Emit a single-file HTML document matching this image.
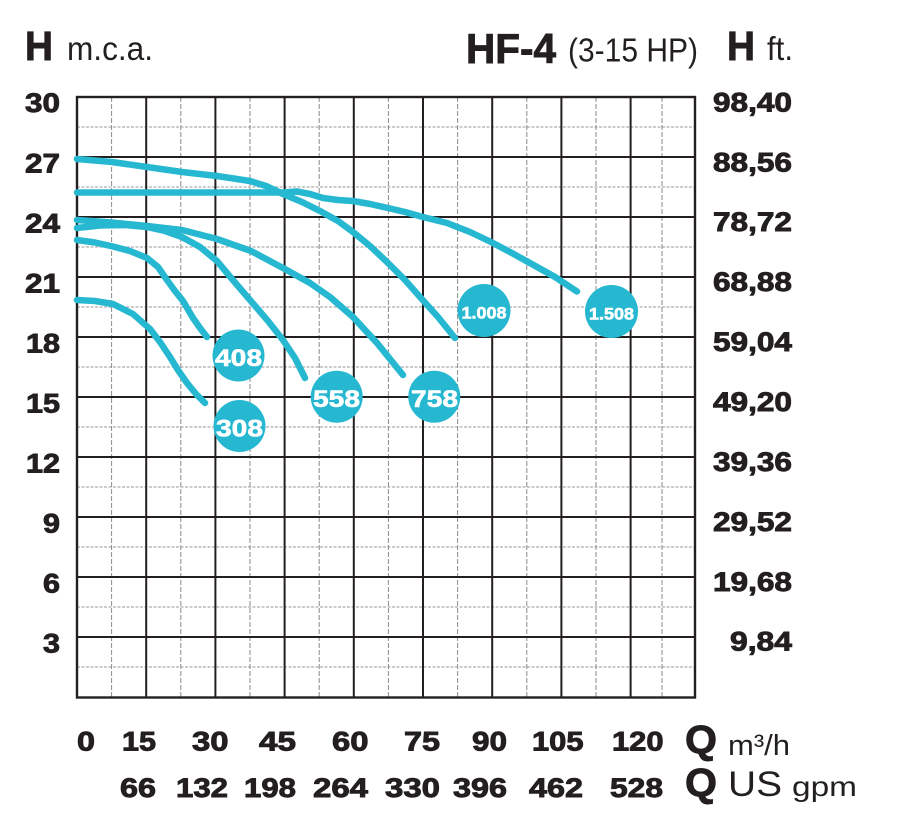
<!DOCTYPE html>
<html>
<head>
<meta charset="utf-8">
<style>
html,body{margin:0;padding:0;background:#fff;}
svg{display:block;}
.hv{font-family:"Liberation Sans",Arial,sans-serif;font-weight:bold;fill:#231f20;stroke:#231f20;stroke-width:0.9;}
.rg{font-family:"Liberation Sans",Arial,sans-serif;font-weight:normal;fill:#231f20;}
.bt{font-family:"Liberation Sans",Arial,sans-serif;font-weight:bold;fill:#fff;stroke:#fff;stroke-width:0.6;}
</style>
</head>
<body>
<svg width="902" height="822" viewBox="0 0 902 822" xmlns="http://www.w3.org/2000/svg">
<rect width="902" height="822" fill="#fff"/>

<!-- minor horizontal lines -->
<g stroke="#9a9a9a" stroke-width="1" stroke-dasharray="3 1.5">
<line x1="77" y1="127" x2="695" y2="127"/>
<line x1="77" y1="187" x2="695" y2="187"/>
<line x1="77" y1="247" x2="695" y2="247"/>
<line x1="77" y1="307" x2="695" y2="307"/>
<line x1="77" y1="367" x2="695" y2="367"/>
<line x1="77" y1="427" x2="695" y2="427"/>
<line x1="77" y1="487" x2="695" y2="487"/>
<line x1="77" y1="547" x2="695" y2="547"/>
<line x1="77" y1="607" x2="695" y2="607"/>
<line x1="77" y1="667" x2="695" y2="667"/>
</g>
<!-- minor vertical lines -->
<g stroke="#8a8a8a" stroke-width="1" stroke-dasharray="5 2">
<line x1="111.6" y1="97" x2="111.6" y2="697"/>
<line x1="180.8" y1="97" x2="180.8" y2="697"/>
<line x1="250" y1="97" x2="250" y2="697"/>
<line x1="319.2" y1="97" x2="319.2" y2="697"/>
<line x1="388.4" y1="97" x2="388.4" y2="697"/>
<line x1="457.6" y1="97" x2="457.6" y2="697"/>
<line x1="526.8" y1="97" x2="526.8" y2="697"/>
<line x1="596" y1="97" x2="596" y2="697"/>
<line x1="662" y1="97" x2="662" y2="697"/>
</g>
<!-- major lines -->
<g stroke="#231f20" stroke-width="2">
<line x1="77" y1="157" x2="695" y2="157"/>
<line x1="77" y1="217" x2="695" y2="217"/>
<line x1="77" y1="277" x2="695" y2="277"/>
<line x1="77" y1="337" x2="695" y2="337"/>
<line x1="77" y1="397" x2="695" y2="397"/>
<line x1="77" y1="457" x2="695" y2="457"/>
<line x1="77" y1="517" x2="695" y2="517"/>
<line x1="77" y1="577" x2="695" y2="577"/>
<line x1="77" y1="637" x2="695" y2="637"/>
<line x1="146.2" y1="97" x2="146.2" y2="697"/>
<line x1="215.4" y1="97" x2="215.4" y2="697"/>
<line x1="284.6" y1="97" x2="284.6" y2="697"/>
<line x1="353.8" y1="97" x2="353.8" y2="697"/>
<line x1="423" y1="97" x2="423" y2="697"/>
<line x1="492.2" y1="97" x2="492.2" y2="697"/>
<line x1="561.4" y1="97" x2="561.4" y2="697"/>
<line x1="630.6" y1="97" x2="630.6" y2="697"/>
</g>
<rect x="77" y="97" width="618" height="600.5" fill="none" stroke="#231f20" stroke-width="2.4"/>

<!-- curves -->
<g fill="none" stroke="#27b8d1" stroke-width="6.5" stroke-linecap="round" stroke-linejoin="round">
<polyline points="77,159 112,162 147,167 182,172 217,176 250,181 266,186 283,194 302,202 320,211 338,221 353,232 370,246 388,263 405,280 420,297 438,317 455,338"/>
<polyline points="77,192.5 283,192.5 297,191.5 310,194 323,198 338,200 353,201 370,204 388,208 405,212 423,217 447,223 470,232 490,241.5 510,252 530,263 555,277 577,291.5"/>
<polyline points="77,220 112,222.5 147,226 182,230 217,239 251,251 283,268 310,283 330,297 353,317 377,343 403,375"/>
<polyline points="77,228 100,225.5 125,225 147,227 165,231 182,237 200,247 217,261 232,279 250,300 268,321 283,340 295,358 305,378"/>
<polyline points="77,240 95,242.5 113,246.5 130,251 147,258 158,267 167,280 175,291 183,301 193,318 200,328 207,337"/>
<polyline points="77,300 95,301 113,304 133,314 150,329 160,342 170,357 178,370 187,383 196,394 205,403"/>
</g>

<!-- badges -->
<g fill="#27b8d1">
<circle cx="238.5" cy="355.5" r="26"/>
<circle cx="239.5" cy="426" r="26"/>
<circle cx="336.7" cy="396.7" r="26"/>
<circle cx="434.3" cy="396.7" r="26"/>
<circle cx="484" cy="310.5" r="26.5"/>
<circle cx="611.5" cy="311.5" r="26.5"/>
</g>
<g class="bt" font-size="24">
<text x="215" y="366" textLength="47" lengthAdjust="spacingAndGlyphs">408</text>
<text x="216" y="436.5" textLength="47" lengthAdjust="spacingAndGlyphs">308</text>
<text x="313" y="407" textLength="47" lengthAdjust="spacingAndGlyphs">558</text>
<text x="411" y="407" textLength="47" lengthAdjust="spacingAndGlyphs">758</text>
</g>
<g class="bt" font-size="17">
<text x="461.5" y="318.5" textLength="45" lengthAdjust="spacingAndGlyphs">1.008</text>
<text x="589" y="319.5" textLength="45" lengthAdjust="spacingAndGlyphs">1.508</text>
</g>

<!-- header -->
<text class="hv" x="25" y="60" font-size="41" textLength="28" lengthAdjust="spacingAndGlyphs">H</text>
<text class="rg" x="67" y="60" font-size="33" textLength="86" lengthAdjust="spacingAndGlyphs">m.c.a.</text>
<text class="hv" x="466" y="63" font-size="42" textLength="90" lengthAdjust="spacingAndGlyphs">HF-4</text>
<text class="rg" x="568" y="61.5" font-size="33" textLength="130" lengthAdjust="spacingAndGlyphs">(3-15 HP)</text>
<text class="hv" x="727" y="60" font-size="41" textLength="28" lengthAdjust="spacingAndGlyphs">H</text>
<text class="rg" x="767" y="60" font-size="33" textLength="26" lengthAdjust="spacingAndGlyphs">ft.</text>

<!-- left axis labels -->
<g class="hv" font-size="27">
<text x="25" y="112" textLength="35" lengthAdjust="spacingAndGlyphs">30</text>
<text x="25" y="172.5" textLength="35" lengthAdjust="spacingAndGlyphs">27</text>
<text x="25" y="232.5" textLength="35" lengthAdjust="spacingAndGlyphs">24</text>
<text x="25" y="292.5" textLength="35" lengthAdjust="spacingAndGlyphs">21</text>
<text x="26" y="352.5" textLength="34" lengthAdjust="spacingAndGlyphs">18</text>
<text x="26" y="412.5" textLength="34" lengthAdjust="spacingAndGlyphs">15</text>
<text x="26" y="472.5" textLength="34" lengthAdjust="spacingAndGlyphs">12</text>
<text x="43" y="532.5" textLength="17" lengthAdjust="spacingAndGlyphs">9</text>
<text x="43" y="592.5" textLength="17" lengthAdjust="spacingAndGlyphs">6</text>
<text x="43" y="652.5" textLength="17" lengthAdjust="spacingAndGlyphs">3</text>
</g>

<!-- right axis labels -->
<g class="hv" font-size="27">
<text x="713" y="111.5" textLength="79" lengthAdjust="spacingAndGlyphs">98,40</text>
<text x="713" y="171.5" textLength="79" lengthAdjust="spacingAndGlyphs">88,56</text>
<text x="713" y="231" textLength="79" lengthAdjust="spacingAndGlyphs">78,72</text>
<text x="713" y="291" textLength="79" lengthAdjust="spacingAndGlyphs">68,88</text>
<text x="713" y="351" textLength="79" lengthAdjust="spacingAndGlyphs">59,04</text>
<text x="713" y="411" textLength="79" lengthAdjust="spacingAndGlyphs">49,20</text>
<text x="713" y="471" textLength="79" lengthAdjust="spacingAndGlyphs">39,36</text>
<text x="713" y="531" textLength="79" lengthAdjust="spacingAndGlyphs">29,52</text>
<text x="713" y="591" textLength="79" lengthAdjust="spacingAndGlyphs">19,68</text>
<text x="730" y="650.5" textLength="62" lengthAdjust="spacingAndGlyphs">9,84</text>
</g>

<!-- bottom axis labels row 1 -->
<g class="hv" font-size="27">
<text x="77" y="750.5" textLength="18" lengthAdjust="spacingAndGlyphs">0</text>
<text x="122" y="750.5" textLength="34" lengthAdjust="spacingAndGlyphs">15</text>
<text x="192" y="750.5" textLength="36.5" lengthAdjust="spacingAndGlyphs">30</text>
<text x="259" y="750.5" textLength="37" lengthAdjust="spacingAndGlyphs">45</text>
<text x="332" y="750.5" textLength="36.5" lengthAdjust="spacingAndGlyphs">60</text>
<text x="404" y="750.5" textLength="36" lengthAdjust="spacingAndGlyphs">75</text>
<text x="472" y="750.5" textLength="35" lengthAdjust="spacingAndGlyphs">90</text>
<text x="532" y="750.5" textLength="51.5" lengthAdjust="spacingAndGlyphs">105</text>
<text x="612" y="750.5" textLength="51.5" lengthAdjust="spacingAndGlyphs">120</text>
</g>
<text class="hv" x="685" y="753" font-size="40" textLength="32" lengthAdjust="spacingAndGlyphs">Q</text>
<text class="rg" x="728" y="755" font-size="29" textLength="62" lengthAdjust="spacingAndGlyphs">m³/h</text>

<!-- bottom axis labels row 2 -->
<g class="hv" font-size="27">
<text x="120" y="797" textLength="36" lengthAdjust="spacingAndGlyphs">66</text>
<text x="176" y="797" textLength="52" lengthAdjust="spacingAndGlyphs">132</text>
<text x="244" y="797" textLength="52" lengthAdjust="spacingAndGlyphs">198</text>
<text x="313" y="797" textLength="55" lengthAdjust="spacingAndGlyphs">264</text>
<text x="385" y="797" textLength="55" lengthAdjust="spacingAndGlyphs">330</text>
<text x="453" y="797" textLength="54" lengthAdjust="spacingAndGlyphs">396</text>
<text x="529" y="797" textLength="54" lengthAdjust="spacingAndGlyphs">462</text>
<text x="610" y="797" textLength="53" lengthAdjust="spacingAndGlyphs">528</text>
</g>
<text class="hv" x="685" y="796" font-size="40" textLength="32" lengthAdjust="spacingAndGlyphs">Q</text>
<text class="rg" x="728" y="796" font-size="35" textLength="54" lengthAdjust="spacingAndGlyphs">US</text>
<text class="rg" x="792" y="796" font-size="28" textLength="65" lengthAdjust="spacingAndGlyphs">gpm</text>
</svg>
</body>
</html>
